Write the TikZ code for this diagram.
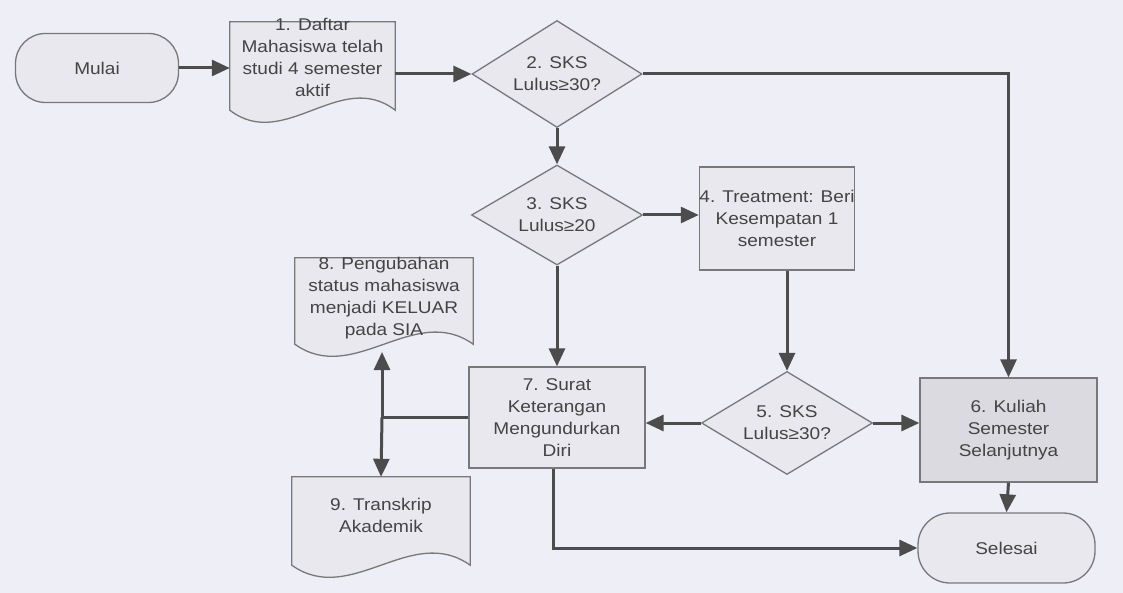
\documentclass[tikz,border=0pt]{standalone}
\usepackage{fontspec}
\setmainfont[FakeStretch=1.12]{Liberation Sans}
\usetikzlibrary{shapes.geometric,arrows.meta,calc}
\definecolor{bg}{HTML}{EEEEF6}
\definecolor{boxfill}{HTML}{E8E8EE}
\definecolor{boxfilldark}{HTML}{DADAE0}
\definecolor{linec}{HTML}{4C4C4C}
\definecolor{outlinec}{HTML}{78787C}
\definecolor{txtc}{HTML}{444444}
\tikzset{
  txt/.style={text=txtc,font=\fontsize{17}{22}\selectfont,align=center,inner sep=0pt},
  shapeline/.style={draw=outlinec,line width=1.3pt},
  term/.style={shapeline,fill=boxfill,rectangle,rounded corners=30pt,txt},
  procbox/.style={shapeline,fill=boxfill,rectangle,txt},
  decision/.style={shapeline,fill=boxfill,diamond,txt,aspect=1.66},
  docbox/.style={rectangle,inner sep=0pt},
  conn/.style={draw=linec,line width=3pt,-{Triangle[length=18pt,width=16pt]}},
  connplain/.style={draw=linec,line width=3pt},
}
\newcommand{\docoutline}[1]{%
  \draw[shapeline,fill=boxfill] (#1.south west) -- (#1.north west) -- (#1.north east) -- (#1.south east)
    .. controls ($(#1.south east)!0.33!(#1.south west)+(0pt,42pt)$) and ($(#1.south east)!0.67!(#1.south west)+(0pt,-42pt)$) .. (#1.south west) -- cycle;}
\begin{document}
\begin{tikzpicture}[x=1pt,y=-1pt]
\fill[bg] (0,0) rectangle (1123,593);
\useasboundingbox (0,0) rectangle (1123,593);

% nodes
\node[term,minimum width=163pt,minimum height=69pt] (mulai) at (97,68) {Mulai};

\node[docbox,minimum width=165pt,minimum height=88pt] (d1) at (312.5,66) {};
\docoutline{d1}
\node[txt] (d1t) at (312.5,57) {1. Daftar\\Mahasiswa telah\\studi 4 semester\\aktif};

\node[decision,minimum width=170pt,minimum height=107pt,inner sep=0pt] (dia2) at (557,74) {2. SKS\\Lulus≥30?};
\node[decision,minimum width=171pt,minimum height=100pt,inner sep=0pt] (dia3) at (557,215) {3. SKS\\Lulus≥20};
\node[procbox,minimum width=153pt,minimum height=103pt] (b4) at (777,218.5) {4. Treatment: Beri\\Kesempatan 1\\semester};
\node[decision,minimum width=171pt,minimum height=103pt,inner sep=0pt] (dia5) at (787,423) {5. SKS\\Lulus≥30?};
\node[procbox,fill=boxfilldark,minimum width=177pt,minimum height=104pt] (b6) at (1008.5,430) {6. Kuliah\\Semester\\Selanjutnya};
\node[term,minimum width=177pt,minimum height=70pt,rounded corners=32pt] (selesai) at (1006.5,548) {Selesai};
\node[procbox,minimum width=176pt,minimum height=101pt] (b7) at (557,417.5) {7. Surat\\Keterangan\\Mengundurkan\\Diri};

\node[docbox,minimum width=178pt,minimum height=86pt] (d8) at (384,301) {};
\docoutline{d8}
\node[txt] (d8t) at (384,298) {8. Pengubahan\\status mahasiswa\\menjadi KELUAR\\pada SIA};

\node[docbox,minimum width=178pt,minimum height=88pt] (d9) at (381,521) {};
\docoutline{d9}
\node[txt] (d9t) at (381,515) {9. Transkrip\\Akademik};

\coordinate (j) at (382,417.5);
\coordinate (d8in) at (382,352);

% connectors
\draw[conn] (mulai.east) -- (d1.west |- mulai.east);
\draw[conn] (d1.east |- dia2.west) -- (dia2.west);
\draw[conn] (dia2.south) -- (dia3.north);
\draw[conn] (dia3.east) -- (b4.west |- dia3.east);
\draw[conn] (b4.south -| dia5.north) -- (dia5.north);
\draw[conn] (dia5.east) -- (b6.west |- dia5.east);
\draw[conn] (dia2.east) -| (b6.north);
\draw[conn] (b6.south) -- (selesai.north);
\draw[conn] (dia3.south) -- (b7.north);
\draw[conn] (dia5.west) -- (b7.east |- dia5.west);
\draw[connplain] (b7.west) -- (j);
\draw[conn] (j) -- (d8in);
\draw[conn] (j) -- (d9.north);
\draw[conn] (b7.south -| 553,0) |- (selesai.west);
\end{tikzpicture}
\end{document}
